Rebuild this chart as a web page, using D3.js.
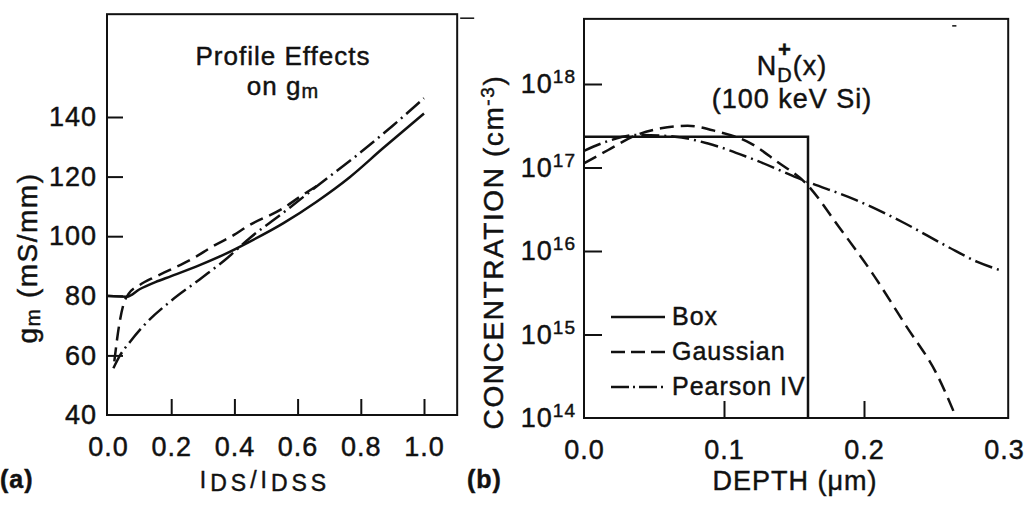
<!DOCTYPE html>
<html>
<head>
<meta charset="utf-8">
<script src="https://cdn.jsdelivr.net/npm/d3@7"></script>
<style>
  body { margin: 0; background: #fff; }
  svg text { font-family: "Liberation Sans", Arial, Helvetica, sans-serif; fill: #111; stroke: #111; stroke-width: 0.45px; letter-spacing: 1px; }
</style>
</head>
<body>
<svg id="chart" width="1024" height="505"></svg>
<script>
// ---- (a) gm vs IDS/IDSS ----
var gmTicksX = [0, 0.2, 0.4, 0.6, 0.8, 1.0],
    gmTicksY = [40, 60, 80, 100, 120, 140];

var boxGmX = [0, 0.06, 0.1, 0.15, 0.2, 0.29, 0.37, 0.449, 0.554, 0.659, 0.765, 0.87, 1.0],
    boxGmY = [80, 79.7, 82.2, 84.6, 86.6, 90.3, 94, 98.2, 104.3, 111.5, 119.8, 129.5, 141.2];

var gaussGmX = [0.02, 0.035, 0.05, 0.065, 0.1, 0.15, 0.2, 0.27, 0.33, 0.395, 0.449, 0.553, 0.607, 0.67],
    gaussGmY = [58, 70, 77.5, 80.6, 83.6, 86.4, 88.9, 92.6, 96.5, 100.2, 103.8, 109.3, 113.2, 117.5];

var pearsonGmX = [0.017, 0.038, 0.07, 0.122, 0.196, 0.29, 0.37, 0.45, 0.55, 0.67, 0.786, 0.9, 1.0],
    pearsonGmY = [55.7, 60, 64.6, 71, 78, 85.5, 92, 99.5, 107.5, 117.5, 127, 137, 146.3];

// ---- (b) N_D+(x) doping profiles ----
var depthTicks = [0, 0.1, 0.2, 0.3],
    concTicks = [1e14, 1e15, 1e16, 1e17, 1e18];

var boxDepth = [0, 0.16, 0.16],
    boxConc = [2.34e17, 2.34e17, 1e14];

var gaussDepth = [0, 0.0173, 0.0375, 0.055, 0.074, 0.0955, 0.119, 0.138, 0.158, 0.182, 0.206, 0.229, 0.253, 0.266],
    gaussConc = [1.12e17, 1.62e17, 2.45e17, 2.95e17, 3.16e17, 2.69e17, 1.95e17, 1.17e17, 6.6e16, 1.95e16, 5.4e15, 1.35e15, 3.1e14, 1.0e14];

var pearsonDepth = [0, 0.016, 0.0375, 0.065, 0.088, 0.119, 0.158, 0.194, 0.227, 0.26, 0.281, 0.297],
    pearsonConc = [1.58e17, 2.04e17, 2.45e17, 2.34e17, 1.95e17, 1.29e17, 6.9e16, 4.1e16, 2.24e16, 1.12e16, 7.4e15, 5.9e15];

var legendLabels = ['Box', 'Gaussian', 'Pearson IV'];

var svg = d3.select('#chart'),
    ink = '#111',
    lineWidth = 2.5,
    dashes = { solid: null, dashed: '14,7', dashdot: '18,5,2,5' };

var toPoints = function(xs, ys) {
    return xs.map(function(x, i) { return [x, ys[i]]; });
};

/*
 * Panel (a)
 */
var gx = d3.scaleLinear().domain([0, 1]).range([108, 424]),
    gy = d3.scaleLinear().domain([40, 140]).range([415, 117]),
    gxMax = 1.105, gyMax = 174.5;

var panelA = svg.append('g');

panelA.append('rect')
    .attr('x', gx(0) - 1).attr('y', gy(gyMax))
    .attr('width', gx(gxMax) - gx(0) + 1).attr('height', gy(40) - gy(gyMax))
    .attr('fill', 'none').attr('stroke', ink).attr('stroke-width', 2);

// small stray mark at top-right of the frame
panelA.append('line')
    .attr('x1', gx(gxMax) + 3).attr('x2', gx(gxMax) + 17)
    .attr('y1', gy(gyMax) + 4).attr('y2', gy(gyMax) + 4)
    .attr('stroke', ink).attr('stroke-width', 1.5);

var axA = panelA.append('g')
    .attr('transform', 'translate(0,' + gy(40) + ')')
    .call(d3.axisBottom(gx).tickValues(gmTicksX).tickSize(-16).tickPadding(22)
        .tickFormat(d3.format('.1f')));
var ayA = panelA.append('g')
    .attr('transform', 'translate(' + (gx(0) - 1) + ',0)')
    .call(d3.axisLeft(gy).tickValues(gmTicksY).tickSize(-16).tickPadding(10));

[axA, ayA].forEach(function(a) {
    a.select('.domain').remove();
    a.selectAll('.tick line').attr('stroke', ink).attr('stroke-width', 2)
        .attr('visibility', function(d, i) { return i === 0 ? 'hidden' : null; });
    a.selectAll('.tick text').attr('font-size', 27).attr('fill', ink)
        .style('font-family', '"Liberation Sans", Arial, sans-serif');
});

var lineA = d3.line()
    .x(function(d) { return gx(d[0]); })
    .y(function(d) { return gy(d[1]); })
    .curve(d3.curveMonotoneX);

[[boxGmX, boxGmY, 'solid'], [gaussGmX, gaussGmY, 'dashed'], [pearsonGmX, pearsonGmY, 'dashdot']]
    .forEach(function(s) {
        panelA.append('path')
            .attr('d', lineA(toPoints(s[0], s[1])))
            .attr('fill', 'none').attr('stroke', ink).attr('stroke-width', lineWidth)
            .attr('stroke-dasharray', dashes[s[2]]);
    });

// title
panelA.append('text').attr('text-anchor', 'middle').attr('font-size', 26)
    .attr('x', 283).attr('y', 65).text('Profile Effects');
var onLine = panelA.append('text').attr('text-anchor', 'middle').attr('font-size', 26)
    .attr('x', 283).attr('y', 95);
onLine.append('tspan').text('on g');
onLine.append('tspan').attr('font-size', 20).attr('dy', 3).text('m');

// y label
var ylabA = panelA.append('text').attr('text-anchor', 'middle').attr('font-size', 28)
    .attr('transform', 'translate(37,258) rotate(-90)').style('letter-spacing', '1.5px');
ylabA.append('tspan').text('g');
ylabA.append('tspan').attr('font-size', 21).attr('dy', 3).text('m');
ylabA.append('tspan').attr('dy', -3).text(' (mS/mm)');

// x label
var xlabA = panelA.append('text').attr('text-anchor', 'middle').attr('font-size', 23)
    .attr('x', 265).attr('y', 488).style('letter-spacing', '4px');
xlabA.append('tspan').text('I');
xlabA.append('tspan').attr('dy', 3).text('DS');
xlabA.append('tspan').attr('dy', -3).text('/I');
xlabA.append('tspan').attr('dy', 3).text('DSS');

panelA.append('text').attr('x', 0).attr('y', 488).attr('font-size', 25)
    .attr('font-weight', 'bold').text('(a)');

/*
 * Panel (b)
 */
var bx = d3.scaleLinear().domain([0, 0.3]).range([584, 1004]),
    by = d3.scaleLog().domain([1e14, 1e18]).range([418, 84]),
    bxMax = 0.303, byMax = Math.pow(10, 18.78);

var panelB = svg.append('g');

panelB.append('rect')
    .attr('x', bx(0)).attr('y', by(byMax))
    .attr('width', bx(bxMax) - bx(0)).attr('height', by(1e14) - by(byMax))
    .attr('fill', 'none').attr('stroke', ink).attr('stroke-width', 2);

panelB.append('line')
    .attr('x1', bx(0.263)).attr('x2', bx(0.266))
    .attr('y1', by(byMax) + 7).attr('y2', by(byMax) + 7)
    .attr('stroke', ink).attr('stroke-width', 1.5);

var axB = panelB.append('g')
    .attr('transform', 'translate(0,' + by(1e14) + ')')
    .call(d3.axisBottom(bx).tickValues(depthTicks).tickSize(-17).tickPadding(22)
        .tickFormat(d3.format('.1f')));
var ayB = panelB.append('g')
    .attr('transform', 'translate(' + bx(0) + ',0)')
    .call(d3.axisLeft(by).tickValues(concTicks).tickSize(-18).tickPadding(8)
        .tickFormat(function() { return ''; }));

[axB, ayB].forEach(function(a) {
    a.select('.domain').remove();
    a.selectAll('.tick line').attr('stroke', ink).attr('stroke-width', 2)
        .attr('visibility', function(d, i, n) { return (i === 0 || (a === axB && i === n.length - 1)) ? 'hidden' : null; });
    a.selectAll('.tick text').attr('font-size', 27).attr('fill', ink)
        .style('font-family', '"Liberation Sans", Arial, sans-serif');
});

// powers of ten with superscript exponents
ayB.selectAll('.tick text').each(function(d) {
    var t = d3.select(this);
    t.append('tspan').text('10');
    t.append('tspan').attr('font-size', 19).attr('dy', -10).text(Math.round(Math.log10(d)));
});

var lineB = d3.line()
    .x(function(d) { return bx(d[0]); })
    .y(function(d) { return by(d[1]); });

panelB.append('path')
    .attr('d', lineB(toPoints(boxDepth, boxConc)))
    .attr('fill', 'none').attr('stroke', ink).attr('stroke-width', lineWidth);

[[gaussDepth, gaussConc, 'dashed'], [pearsonDepth, pearsonConc, 'dashdot']].forEach(function(s) {
    panelB.append('path')
        .attr('d', lineB.curve(d3.curveMonotoneX)(toPoints(s[0], s[1])))
        .attr('fill', 'none').attr('stroke', ink).attr('stroke-width', lineWidth)
        .attr('stroke-dasharray', dashes[s[2]]);
});

// title N_D^+(x)
var titleB = panelB.append('text').attr('text-anchor', 'middle').attr('font-size', 27)
    .attr('x', 792).attr('y', 75);
titleB.append('tspan').text('N');
titleB.append('tspan').attr('font-size', 20).attr('dy', 7).text('D');
titleB.append('tspan').attr('dy', -7).text('(x)');
var nb = titleB.node(),
    dMid = (nb.getStartPositionOfChar(1).x + nb.getEndPositionOfChar(1).x) / 2;
panelB.append('text').attr('text-anchor', 'middle').attr('font-size', 22)
    .attr('font-weight', 'bold').attr('x', dMid).attr('y', 57).text('+');
panelB.append('text').attr('text-anchor', 'middle').attr('font-size', 27)
    .attr('x', 792).attr('y', 108).text('(100 keV Si)');

// legend
var legend = panelB.selectAll('.legend').data(legendLabels).enter()
    .append('g').attr('class', 'legend')
    .attr('transform', function(d, i) { return 'translate(611,' + (317 + i * 35) + ')'; });
legend.append('line')
    .attr('x1', 0).attr('x2', 54).attr('y1', 0).attr('y2', 0)
    .attr('stroke', ink).attr('stroke-width', lineWidth)
    .attr('stroke-dasharray', function(d, i) { return [null, '14,6', '18,4,2,4'][i]; });
legend.append('text').attr('x', 61).attr('y', 8).attr('font-size', 25).text(function(d) { return d; });

// axis labels
var ylabB = panelB.append('text').attr('text-anchor', 'middle').attr('font-size', 28)
    .attr('transform', 'translate(503,252) rotate(-90)').style('letter-spacing', '1.6px');
ylabB.append('tspan').text('CONCENTRATION (cm');
ylabB.append('tspan').attr('font-size', 19).attr('dy', -9).text('-3');
ylabB.append('tspan').attr('dy', 9).text(')');

panelB.append('text').attr('text-anchor', 'middle').attr('font-size', 27)
    .attr('x', 795).attr('y', 490).text('DEPTH (\u03bcm)');

panelB.append('text').attr('x', 467).attr('y', 488).attr('font-size', 25)
    .attr('font-weight', 'bold').text('(b)');
</script>
</body>
</html>
